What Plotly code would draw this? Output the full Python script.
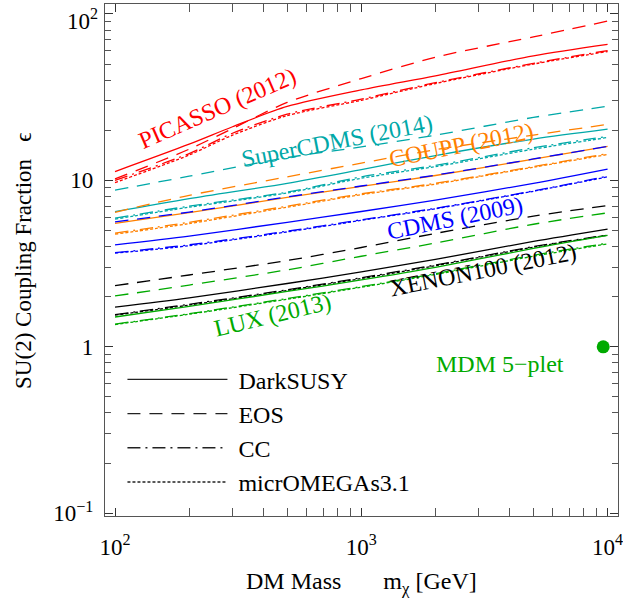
import plotly.graph_objects as go

# ---------------- data ----------------
MASS_PICASSO = [100, 200, 300, 500, 1000, 2000, 5000, 10000]
MASS = [100, 200, 500, 1000, 2000, 5000, 10000]

PICASSO_DARKSUSY = [11.3, 16.5, 21.0, 27.8, 35.0, 42.5, 56.0, 65.6]
PICASSO_EOS = [10.2, 15.4, 20.5, 29.4, 40.9, 55.0, 72.8, 90.6]
PICASSO_CC = [10.0, 14.5, 19.2, 25.0, 30.8, 38.7, 50.5, 60.3]
PICASSO_MICRO = [9.7, 14.2, 18.7, 24.5, 30.3, 38.2, 50.0, 59.5]

SUPERCDMS_DARKSUSY = [6.48, 7.76, 9.6, 11.6, 14.1, 17.7, 20.3]
SUPERCDMS_EOS = [8.73, 10.6, 13.7, 15.9, 18.7, 23.9, 27.9]
SUPERCDMS_CC = [5.93, 7.0, 8.5, 10.5, 12.3, 15.7, 18.4]
SUPERCDMS_MICRO = [5.85, 6.9, 8.4, 10.3, 12.1, 15.4, 18.1]

COUPP_DARKSUSY = [5.52, 6.4, 7.9, 9.2, 10.7, 13.4, 16.0]
COUPP_EOS = [6.43, 8.13, 10.5, 12.7, 15.3, 18.7, 21.7]
COUPP_CC = [4.82, 5.6, 7.0, 8.3, 9.6, 12.1, 14.5]
COUPP_MICRO = [4.75, 5.5, 6.9, 8.2, 9.5, 12.0, 14.3]

CDMS_DARKSUSY = [4.10, 4.63, 5.6, 6.5, 7.6, 9.6, 11.7]
CDMS_EOS = [5.63, 6.45, 7.95, 9.25, 10.75, 13.45, 16.0]
CDMS_CC = [3.68, 4.1, 4.95, 5.8, 6.8, 8.65, 10.6]
CDMS_MICRO = [3.65, 4.05, 4.9, 5.75, 6.75, 8.6, 10.5]

XENON_DARKSUSY = [1.73, 1.97, 2.4, 2.82, 3.35, 4.3, 5.1]
XENON_EOS = [2.33, 2.70, 3.3, 3.95, 4.8, 6.1, 7.05]
XENON_CC = [1.56, 1.80, 2.2, 2.6, 3.1, 4.0, 4.7]
XENON_MICRO = [1.55, 1.78, 2.18, 2.57, 3.07, 3.97, 4.68]

LUX_DARKSUSY = [1.51, 1.75, 2.15, 2.52, 3.0, 3.9, 4.67]
LUX_EOS = [2.02, 2.35, 2.9, 3.5, 4.2, 5.45, 6.38]
LUX_CC = [1.37, 1.58, 1.95, 2.3, 2.75, 3.55, 4.19]
LUX_MICRO = [1.36, 1.57, 1.93, 2.28, 2.72, 3.5, 4.15]

MDM_MASS = [9600]
MDM_EPS = [1.0]

CODES = ["DarkSUSY", "EOS", "CC", "micrOMEGAs3.1"]
X_TICKS = [100, 1000, 10000]
X_TICKTEXT = ["10<sup>2</sup>", "10<sup>3</sup>", "10<sup>4</sup>"]
Y_TICKS = [0.1, 1, 10, 100]
Y_TICKTEXT = ["10<sup>\u22121</sup>", "1", "10", ""]
Y_TOP_TICK = [100]
Y_TOP_TICKTEXT = ["10<sup>2</sup>"]
X_MINOR = [200, 300, 400, 500, 600, 700, 800, 900,
           2000, 3000, 4000, 5000, 6000, 7000, 8000, 9000]
Y_MINOR = [0.2, 0.3, 0.4, 0.5, 0.6, 0.7, 0.8, 0.9,
           2, 3, 4, 5, 6, 7, 8, 9, 20, 30, 40, 50, 60, 70, 80, 90]

# ---------------- styles ----------------
FONT = "Liberation Serif"
RED = "#ff0000"
TEAL = "#00a8a8"
ORANGE = "#ff8000"
BLUE = "#0000ff"
BLACK = "#000000"
GREEN = "#00aa00"
DASHES = ["solid", "13px,9px", "13px,5px,2px,5px", "3px,2px"]
LW = 1.3
X_RANGE = [1.9593, 4.0423]
Y_RANGE = [-1.017, 2.060]

experiments = [
    (MASS_PICASSO, [PICASSO_DARKSUSY, PICASSO_EOS, PICASSO_CC, PICASSO_MICRO], RED),
    (MASS, [SUPERCDMS_DARKSUSY, SUPERCDMS_EOS, SUPERCDMS_CC, SUPERCDMS_MICRO], TEAL),
    (MASS, [COUPP_DARKSUSY, COUPP_EOS, COUPP_CC, COUPP_MICRO], ORANGE),
    (MASS, [CDMS_DARKSUSY, CDMS_EOS, CDMS_CC, CDMS_MICRO], BLUE),
    (MASS, [XENON_DARKSUSY, XENON_EOS, XENON_CC, XENON_MICRO], BLACK),
    (MASS, [LUX_DARKSUSY, LUX_EOS, LUX_CC, LUX_MICRO], GREEN),
]

fig = go.Figure()
for xs, series, color in experiments:
    for vals, dash in zip(series, DASHES):
        fig.add_trace(go.Scatter(
            x=xs, y=vals, mode="lines",
            line=dict(color=color, width=LW, dash=dash, shape="spline", smoothing=0.8),
            showlegend=False, hoverinfo="skip"))

NB = "\u00a0"
# legend entries
for i, (name, dash) in enumerate(zip(CODES, DASHES)):
    fig.add_trace(go.Scatter(
        x=[None], y=[None], mode="lines", name=NB + name, legendgroup=str(i),
        line=dict(color="#222222", width=1.4, dash=dash)))

fig.add_trace(go.Scatter(
    x=MDM_MASS, y=MDM_EPS, mode="markers",
    marker=dict(color=GREEN, size=13, line=dict(width=0)),
    showlegend=False, hoverinfo="skip"))

# helper trace so the overlay axis carrying the top tick label is drawn
fig.add_trace(go.Scatter(x=[None], y=[None], yaxis="y2", mode="lines",
                         showlegend=False, hoverinfo="skip"))

labels = [
    ("PICASSO (2012)", 2.4175, 1.435, -23.5, RED),
    ("SuperCDMS (2014)", 2.901, 1.236, -11.0, TEAL),
    ("COUPP (2012)", 3.405, 1.212, -11.4, ORANGE),
    ("CDMS (2009)", 3.381, 0.773, -11.5, BLUE),
    ("XENON100 (2012)", 3.495, 0.461, -11.3, BLACK),
    ("LUX (2013)", 2.641, 0.190, -13.6, GREEN),
    ("MDM 5\u2212plet", 3.564, -0.105, 0, GREEN),
]
for text, lx, ly, ang, col in labels:
    fig.add_annotation(x=lx, y=ly, xref="x", yref="y", text=text, showarrow=False,
                       textangle=ang, font=dict(family=FONT, size=24, color=col),
                       xanchor="center", yanchor="middle")

axis_common = dict(
    type="log", showline=True, linecolor="#555555", linewidth=1.2, mirror="allticks",
    ticks="inside", ticklen=8, tickwidth=1, tickcolor="#333333", showgrid=False,
    zeroline=False, tickfont=dict(family=FONT, size=23, color="black"),
    automargin=False, ticklabeloverflow="allow",
)

fig.update_layout(
    xaxis=dict(**axis_common, range=X_RANGE, tickmode="array",
               tickvals=X_TICKS, ticktext=X_TICKTEXT, ticklabelstandoff=10,
               minor=dict(tickmode="array", tickvals=X_MINOR, ticks="inside", ticklen=6,
                          tickcolor="#555555", showgrid=False)),
    yaxis=dict(**axis_common, range=Y_RANGE, tickmode="array",
               tickvals=Y_TICKS, ticktext=Y_TICKTEXT, ticklabelstandoff=6,
               minor=dict(tickmode="array", tickvals=Y_MINOR, ticks="inside", ticklen=6,
                          tickcolor="#555555", showgrid=False)),
    yaxis2=dict(type="log", overlaying="y", anchor="x", side="left", range=Y_RANGE,
                tickmode="array", tickvals=Y_TOP_TICK, ticktext=Y_TOP_TICKTEXT,
                ticks="", showline=False, showgrid=False, zeroline=False,
                tickfont=dict(family=FONT, size=23, color="black"),
                ticklabelstandoff=6, ticklabelshift=7,
                automargin=False, ticklabeloverflow="allow"),
)

fig.add_annotation(x=0.5, y=-0.13, xref="paper", yref="paper",
                   text="DM Mass" + NB * 7 + "m<sub>\u03c7</sub> [GeV]", showarrow=False,
                   font=dict(family=FONT, size=24, color="black"),
                   xanchor="center", yanchor="middle")
fig.add_annotation(x=-0.16, y=0.5, xref="paper", yref="paper",
                   text="SU(2) Coupling Fraction" + NB * 3 + "\u03f5", showarrow=False,
                   textangle=-90, font=dict(family=FONT, size=23, color="black"),
                   xanchor="center", yanchor="middle")

fig.update_layout(
    template="none",
    width=623, height=601,
    margin=dict(l=105, r=5, t=4, b=85, autoexpand=False),
    paper_bgcolor="white", plot_bgcolor="white",
    showlegend=True,
    legend=dict(x=0.034, y=0.31, xanchor="left", yanchor="top",
                bgcolor="rgba(0,0,0,0)", borderwidth=0, itemwidth=100,
                tracegroupgap=0,
                font=dict(family=FONT, size=24, color="black")),
)

fig.write_html("out.html", config={"displayModeBar": False},
               post_script="document.body.style.margin='0px';document.body.style.padding='0px';")
